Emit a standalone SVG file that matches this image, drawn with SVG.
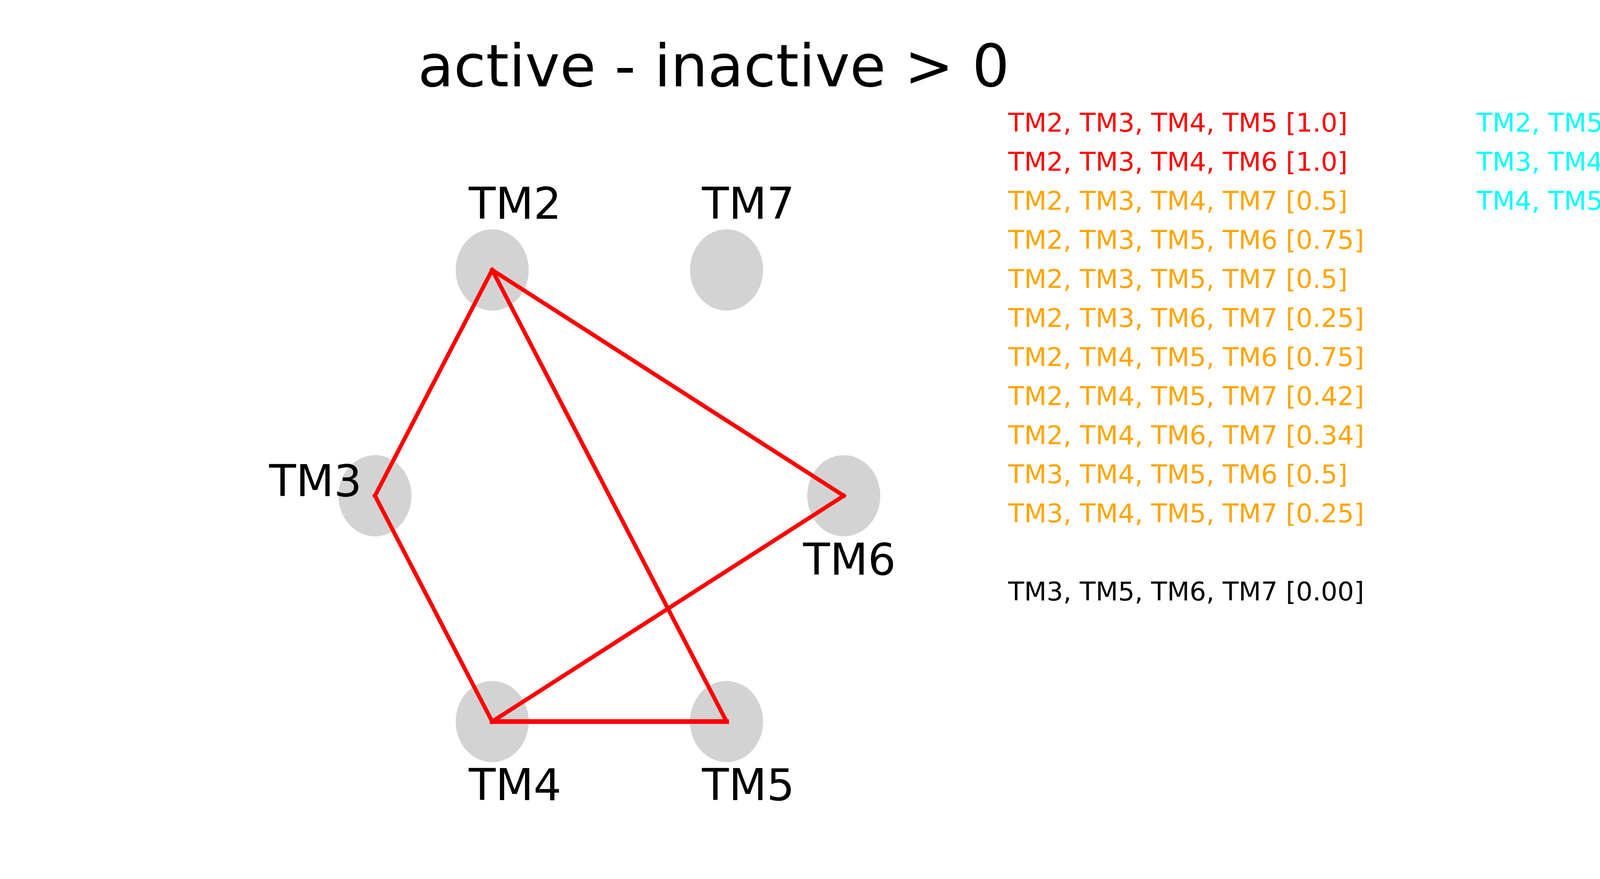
<svg xmlns="http://www.w3.org/2000/svg" width="7200" height="2250" viewBox="0 0 7200 2250">
<style>
text { font-family: "DejaVu Sans", "Liberation Sans", sans-serif; }
.title { font-size: 150px; fill: #000; text-anchor: middle; }
.lbl { font-size: 112.5px; fill: #000; }
.node ellipse { fill: #d3d3d3; }
.edge { stroke: #ff0000; stroke-width: 10.5; stroke-linecap: square; fill: none; }
.li { font-size: 66.67px; }
.red { fill: #ff0000; }
.orange { fill: #ffa500; }
.cyan { fill: #00ffff; }
.black { fill: #000000; }
</style>
<rect x="0" y="0" width="7200" height="2250" fill="#ffffff"/>

<g id="titles">
<text class="title" x="1827" y="221">active - inactive &gt; 0</text>
<text class="title" x="5546" y="221">active - inactive &lt; 0</text>
</g>

<!-- Left graph nodes -->
<g id="left-nodes">
<g id="L-TM2" class="node"><ellipse cx="1260" cy="691" rx="93.5" ry="104"/><text class="lbl" x="1200" y="560">TM2</text></g>
<g id="L-TM7" class="node"><ellipse cx="1860" cy="691" rx="93.5" ry="104"/><text class="lbl" x="1797" y="560">TM7</text></g>
<g id="L-TM3" class="node"><ellipse cx="960" cy="1269" rx="93.5" ry="104"/></g>
<g id="L-TM6" class="node"><ellipse cx="2160" cy="1269" rx="93.5" ry="104"/></g>
<g id="L-TM4" class="node"><ellipse cx="1260" cy="1847" rx="93.5" ry="104"/></g>
<g id="L-TM5" class="node"><ellipse cx="1860" cy="1847" rx="93.5" ry="104"/></g>
</g>

<g id="connectors">
<line class="edge" x1="1260" y1="691" x2="960" y2="1269"/>
<line class="edge" x1="1260" y1="691" x2="1860" y2="1847"/>
<line class="edge" x1="1260" y1="691" x2="2160" y2="1269"/>
<line class="edge" x1="960" y1="1269" x2="1260" y2="1847"/>
<line class="edge" x1="1260" y1="1847" x2="2160" y2="1269"/>
<line class="edge" x1="1260" y1="1847" x2="1860" y2="1847" style="stroke-width:12"/>
</g>

<g id="left-labels">
<text class="lbl" x="689" y="1270">TM3</text>
<text class="lbl" x="2056" y="1471">TM6</text>
<text class="lbl" x="1200" y="2048">TM4</text>
<text class="lbl" x="1797" y="2048">TM5</text>
</g>

<!-- Right graph nodes -->
<g id="right-nodes">
<g id="R-TM2" class="node"><ellipse cx="5521" cy="691" rx="93.5" ry="104"/><text class="lbl" x="5461" y="560">TM2</text></g>
<g id="R-TM7" class="node"><ellipse cx="6121" cy="691" rx="93.5" ry="104"/><text class="lbl" x="6058" y="560">TM7</text></g>
<g id="R-TM3" class="node"><ellipse cx="5221" cy="1269" rx="93.5" ry="104"/><text class="lbl" x="4950" y="1270">TM3</text></g>
<g id="R-TM6" class="node"><ellipse cx="6421" cy="1269" rx="93.5" ry="104"/><text class="lbl" x="6317" y="1471">TM6</text></g>
<g id="R-TM4" class="node"><ellipse cx="5521" cy="1847" rx="93.5" ry="104"/><text class="lbl" x="5461" y="2048">TM4</text></g>
<g id="R-TM5" class="node"><ellipse cx="6121" cy="1847" rx="93.5" ry="104"/><text class="lbl" x="6058" y="2048">TM5</text></g>
</g>

<g id="list-positive">
<text class="li red" x="2581" y="337">TM2, TM3, TM4, TM5 [1.0]</text>
<text class="li red" x="2581" y="437">TM2, TM3, TM4, TM6 [1.0]</text>
<text class="li orange" x="2581" y="537">TM2, TM3, TM4, TM7 [0.5]</text>
<text class="li orange" x="2581" y="637">TM2, TM3, TM5, TM6 [0.75]</text>
<text class="li orange" x="2581" y="737">TM2, TM3, TM5, TM7 [0.5]</text>
<text class="li orange" x="2581" y="837">TM2, TM3, TM6, TM7 [0.25]</text>
<text class="li orange" x="2581" y="937">TM2, TM4, TM5, TM6 [0.75]</text>
<text class="li orange" x="2581" y="1037">TM2, TM4, TM5, TM7 [0.42]</text>
<text class="li orange" x="2581" y="1137">TM2, TM4, TM6, TM7 [0.34]</text>
<text class="li orange" x="2581" y="1237">TM3, TM4, TM5, TM6 [0.5]</text>
<text class="li orange" x="2581" y="1337">TM3, TM4, TM5, TM7 [0.25]</text>
<text class="li black" x="2581" y="1537">TM3, TM5, TM6, TM7 [0.00]</text>
</g>

<g id="list-negative">
<text class="li cyan" x="3780" y="337">TM2, TM5, TM6, TM7 [-0.16]</text>
<text class="li cyan" x="3780" y="437">TM3, TM4, TM6, TM7 [-0.16]</text>
<text class="li cyan" x="3780" y="537">TM4, TM5, TM6, TM7 [-0.34]</text>
</g>
</svg>
